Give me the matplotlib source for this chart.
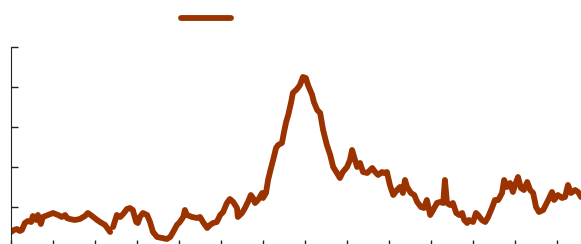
import numpy as np
import matplotlib
matplotlib.use('Agg')
import matplotlib.pyplot as plt
from matplotlib.lines import Line2D

# series values (x in tick units of 10, y in tick units of 10); nan = gap
x = [0, 0.7, 1.4, 2.1, 2.6, 3.3, 4.0, 4.8, 5.2, 6.0, 6.4, 7.1, 7.6, 8.8, 10.0,
     11.2, 12.1, 12.9, 13.3, 14.0, 15.2, 16.4, 17.6, 18.3, 19.3, 20.5, 21.2,
     22.4, 23.6, 24.0, 24.3, 25.2, 26.0, 26.7, 27.6, 28.3, 29.0, 29.8, 30.2,
     30.7, 31.4, 32.4, 33.1, 33.8, 34.8, 36.0, 37.1, 37.9, 38.6, 39.5, 40.2,
     41.0, 41.4, 41.9, 43.1, 44.3, 45.0, 45.7, 46.7, 47.4, 48.1, 49.0, 49.8,
     50.5, 51.4, 52.1, 52.9, 53.8, 54.0, 55.0, 55.7, 56.4, 57.1, 57.6, 58.1,
     58.8, 59.8, 60.0, 60.7, 61.2, 61.9, 62.4, 63.1, 63.6, 64.5, 65.0, 65.5,
     66.0, 66.7, 67.1, 68.1, 68.8, 69.5, 70.2, 70.7, 71.7, 72.1, 72.9, 73.6,
     74.3, 75.2, 76.0, 76.7, 77.6, 78.3, 79.0, 80.0, 80.7, 81.2, 81.7, 82.4,
     83.1, 83.8, 84.8, 86.0, 86.7, 87.4, 88.3, 88.8, 89.5, 90.2, 91.0, 91.9,
     92.6, 93.3, 93.8, 94.3, 95.2, 96.0, 96.7, 97.6, 98.3, 99.0, 99.8, 100.5,
     101.4, 102.1, 102.9, 103.3, 103.8, 104.5, 105.2, 106.0, 106.7, 107.4,
     107.9, 108.6, 109.0, 110.0, 110.7, 111.2, 112.1, 112.9, 113.6, 114.5,
     115.2, 116.0, 116.9, 117.4, 118.1, 118.8, 119.5, 120.0, 120.7, 121.4,
     122.1, 122.9, 123.6, 124.3, 125.0, 125.7, 126.7, 127.9, 128.8, 129.3,
     130.2, 131.2, 131.9, 132.6, 133.3, 134.3, 135.0, 135.7, 136.7]
y = [3.75, 4.25, 4.5, 4.0, 4.25, 6.0, 6.5, 6.25, 7.75, 6.75, 8.0, 5.75, 7.5,
     8.0, 8.5, 8.0, 7.5, 8.0, 7.25, 7.0, 6.75, 7.0, 7.75, 8.5, 7.75, 6.75,
     6.25, 5.5, 3.75, np.nan, 5.0, 8.0, 7.5, 8.25, 9.5, 9.75, 9.25, 6.25, 6.0,
     7.5, 8.5, 8.0, 6.25, 3.75, 2.5, 2.25, 2.0, 2.5, 3.75, 5.5, 6.25, 7.5,
     9.25, 8.0, 7.5, 7.25, 7.5, 6.25, 4.75, 5.5, 6.0, 6.25, 8.0, 8.75, 11.0,
     12.0, 11.25, 9.75, 7.5, 8.5, 9.75, 11.25, 13.0, 12.25, 11.0, 11.75, 13.5,
     12.25, 13.5, 16.75, 19.75, 21.75, 24.75, 25.5, 26.0, 28.75, 31.25, 33.0,
     36.25, 38.5, 39.5, 40.5, 42.5, 42.25, 40.5, 38.0, 36.25, 34.25, 33.5,
     29.25, 25.5, 23.0, 20.0, 18.5, 17.25, 18.75, 20.0, 21.75, 24.25, 22.5,
     20.0, 21.0, 18.75, 18.5, 19.75, 18.75, 18.0, 18.75, 18.5, 18.75, 15.5,
     13.0, 14.25, 15.0, 13.5, 16.75, 15.0, 13.5, 13.0, 11.25, 10.0, 9.75,
     11.75, 8.0, 9.25, 11.0, 11.25, 11.0, 16.75, 11.0, 10.5, 11.0, 8.5, 8.0,
     8.5, 6.75, 6.0, 6.75, 6.25, 8.5, 8.0, 6.75, 6.25, 7.5, 9.75, 11.75, 11.75,
     13.5, 16.75, 15.0, 16.0, 13.75, 15.5, 17.5, 14.75, 14.25, 16.25, 14.25,
     13.5, 10.0, 8.75, 9.25, 11.75, 13.75, 11.75, 13.0, 12.25, 12.5, 15.5,
     13.5, 14.25, 13.75, 12.5, 12.5]

line_color = '#9a3300'

fig = plt.figure(figsize=(5.81, 2.44), dpi=100)
ax = fig.add_axes([11 / 581, -3 / 244, 1 - 11 / 581, 200 / 244])
ax.plot(x, y, color=line_color, lw=4.2, solid_capstyle='round',
        solid_joinstyle='round')
ax.set_xlim(0, 135.7)
ax.set_ylim(0, 50)
ax.set_xticks(np.arange(0, 136, 10))
ax.set_yticks(np.arange(0, 51, 10))
ax.tick_params(direction='in', length=5, width=1, color='#222222',
               labelleft=False, labelbottom=False)
ax.spines['top'].set_visible(False)
ax.spines['right'].set_visible(False)
ax.spines['left'].set_color('#222222')

handle = Line2D([], [], color=line_color, lw=4.2, solid_capstyle='round')
fig.legend([handle], [''], loc='center', bbox_to_anchor=(206 / 581, 225 / 244),
           frameon=False, handlelength=3.6, handletextpad=0)

fig.savefig('out.png', dpi=100)
